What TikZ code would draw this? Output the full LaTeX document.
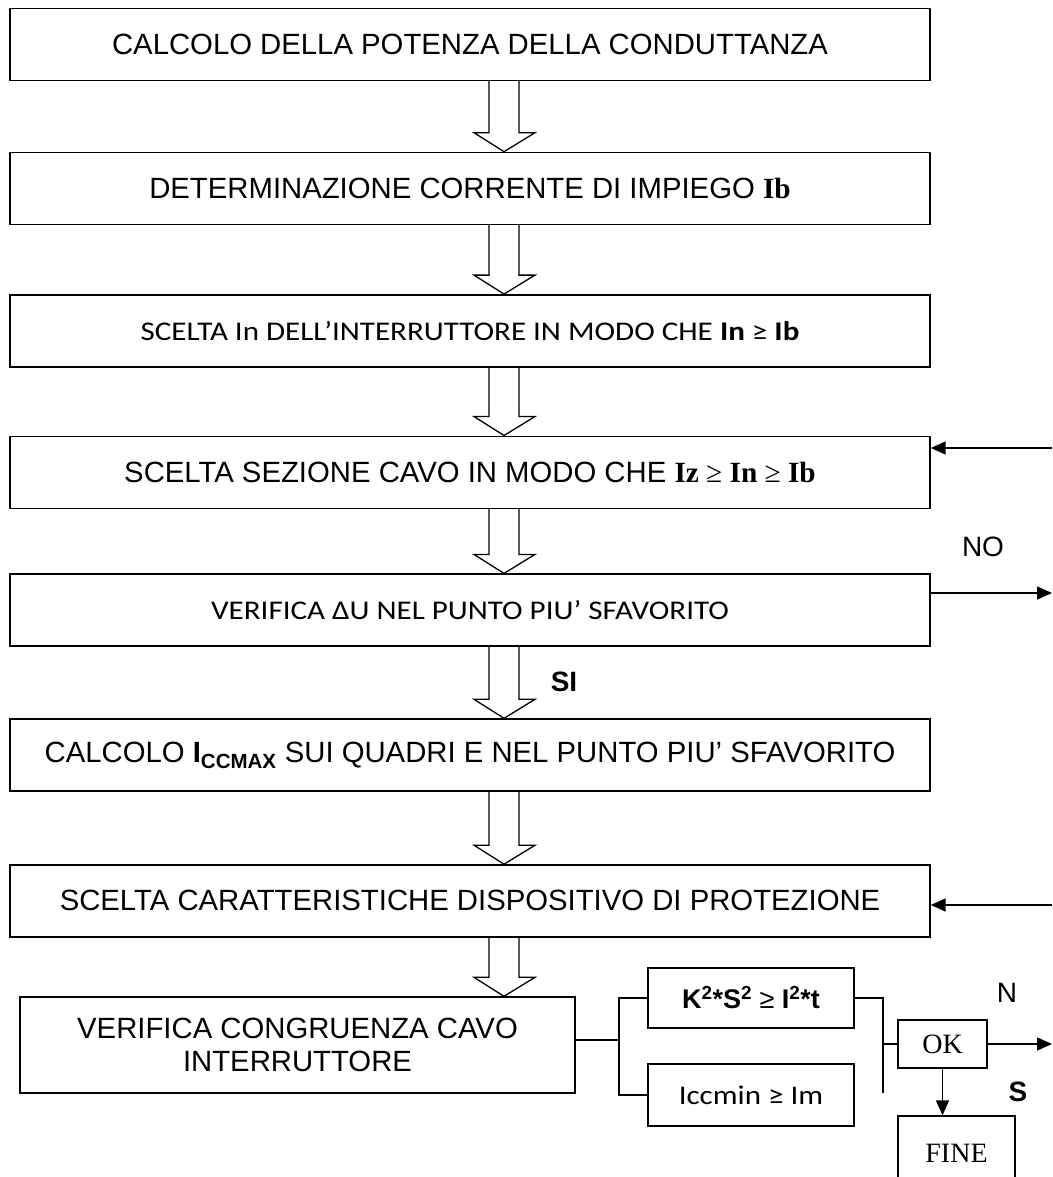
\documentclass[tikz,border=0pt]{standalone}
\usepackage{fontspec}
\setmainfont{Liberation Sans}
\newfontfamily\calibrifont[FakeStretch=1.15]{Carlito}
\newfontfamily\romanfont{Liberation Serif}
\usepackage{tikz}
\usetikzlibrary{arrows.meta, positioning, calc}

\newcommand{\testo}{\fontsize{29.3}{33}\selectfont}
\newcommand{\testocal}{\calibrifont\fontsize{27}{32}\selectfont}
% freccia vuota tra due caselle della colonna
\newcommand{\frecciavuota}[2]{%
  \draw[vuota] let \p1=(#1.south), \p2=(#2.north) in
    (489pt,\y1) -- (489pt,\y2+19pt) -- (474pt,\y2+19pt) -- (504pt,\y2)
    -- (535pt,\y2+19pt) -- (519pt,\y2+19pt) -- (519pt,\y1);}

\begin{document}
\begin{tikzpicture}[
  x=1pt, y=-1pt,
  casella/.style={draw, line width=1.4pt, minimum width=920pt,
                  minimum height=72pt, inner sep=0pt, align=center, font=\testo},
  piccola/.style={draw, line width=1.4pt, inner sep=0pt, align=center, font=\testo},
  freccia/.style={-{Triangle[length=15pt, width=13pt]}, line width=1.5pt},
  linea/.style={line width=1.5pt},
  vuota/.style={line width=1.3pt},
  etichetta/.style={font=\fontsize{28}{33}\selectfont, inner sep=0pt}
]
\useasboundingbox (0,0) rectangle (1052,1177);

\node[casella] (potenza) at (470,44.5) {CALCOLO DELLA POTENZA DELLA CONDUTTANZA};
\node[casella, below=70.5pt of potenza] (corrente)
  {DETERMINAZIONE CORRENTE DI IMPIEGO {\romanfont\bfseries Ib}};
\node[casella, below=69pt of corrente] (interr)
  {\testocal SCELTA In DELL’INTERRUTTORE IN MODO CHE \textbf{In} ≥ \textbf{Ib}};
\node[casella, below=68pt of interr] (sezione)
  {SCELTA SEZIONE CAVO IN MODO CHE {\romanfont\textbf{Iz} ≥ \textbf{In} ≥ \textbf{Ib}}};
\node[casella, below=64.5pt of sezione] (caduta)
  {\testocal VERIFICA ΔU NEL PUNTO PIU’ SFAVORITO};
\node[casella, below=71.5pt of caduta] (iccmax)
  {CALCOLO \textbf{I}\textsubscript{\textbf{CCMAX}} SUI QUADRI E NEL PUNTO PIU’ SFAVORITO};
\node[casella, below=72.5pt of iccmax] (protez)
  {SCELTA CARATTERISTICHE DISPOSITIVO DI PROTEZIONE};

\node[piccola, minimum width=555pt, minimum height=96pt] (congr) at (297.5,1045)
  {VERIFICA CONGRUENZA CAVO\\INTERRUTTORE};
\node[piccola, minimum width=206pt, minimum height=60pt, font=\fontsize{27}{32}\selectfont] (energia) at (751,998)
  {\bfseries K\textsuperscript{2}*S\textsuperscript{2} {\mdseries ≥} I\textsuperscript{2}*t};
\node[piccola, minimum width=206pt, minimum height=62pt] (iccmin) at (751,1095)
  {\testocal Iccmin ≥ Im};
\node[piccola, minimum width=89pt, minimum height=48pt, font=\romanfont\fontsize{28}{33}\selectfont] (ok) at (942.5,1044) {OK};
\node[piccola, minimum width=117pt, minimum height=74pt, font=\romanfont\fontsize{28}{33}\selectfont] (fine) at (956.5,1153) {FINE};

\node[etichetta] (no) at (983,547) {NO};
\node[etichetta, font=\fontsize{28}{33}\selectfont\bfseries] (si) at (564,682) {SI};
\node[etichetta] (n) at (1007,993) {N};
\node[etichetta, font=\fontsize{28}{33}\selectfont\bfseries] (s) at (1018,1092) {S};

\coordinate (ritorno1) at (1052,448);
\coordinate (ritorno2) at (1052,905);
\coordinate (uscitaNO) at (1052,593);
\coordinate (uscitaN) at (1052,1044);
\coordinate (nodo1) at (619,1040);
\coordinate (nodo2) at (883,1093);

\foreach \a/\b in {potenza/corrente, corrente/interr, interr/sezione, sezione/caduta,
                   caduta/iccmax, iccmax/protez, protez/congr}
  \frecciavuota{\a}{\b};

\draw[freccia] (ritorno1) -- (ritorno1 -| sezione.east);
\draw[freccia] (ritorno2) -- (ritorno2 -| protez.east);
\draw[freccia] (uscitaNO -| caduta.east) -- (uscitaNO);

\draw[linea] (congr.east |- nodo1) -- (nodo1);
\draw[linea] (energia.west) -- (energia.west -| nodo1) -- (iccmin.west -| nodo1) -- (iccmin.west);
\draw[linea] (energia.east) -| (nodo2);
\draw[linea] (ok.west) -- (ok.west -| nodo2);
\draw[freccia] (ok.east) -- (uscitaN);
\draw[freccia] (ok.south) -- (ok.south |- fine.north);
\end{tikzpicture}
\end{document}
